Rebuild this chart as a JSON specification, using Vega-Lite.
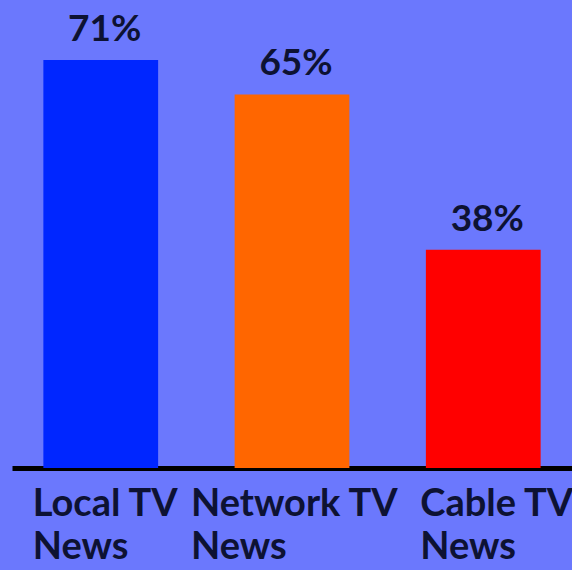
{
  "$schema": "https://vega.github.io/schema/vega-lite/v6.json",
  "width": 560,
  "height": 431,
  "autosize": {"type": "none"},
  "padding": {"left": 12, "top": 37, "right": 0, "bottom": 102},
  "background": "#6b78fd",
  "config": {"view": {"stroke": null}},
  "data": {
    "values": [
      {"source": "Local TV News", "share": 0.71},
      {"source": "Network TV News", "share": 0.65},
      {"source": "Cable TV News", "share": 0.38}
    ]
  },
  "encoding": {
    "x": {
      "field": "source",
      "type": "nominal",
      "sort": null,
      "scale": {"paddingInner": 0.4, "paddingOuter": 0.164},
      "axis": {
        "title": null,
        "orient": "bottom",
        "domainColor": "#000000",
        "domainWidth": 5,
        "ticks": false,
        "labelAngle": 0,
        "labelAlign": "left",
        "labelBaseline": "top",
        "labelFont": "Lato",
        "labelFontWeight": "bold",
        "labelFontSize": 38,
        "labelColor": "#0d1233",
        "labelPadding": 17,
        "labelLineHeight": 43,
        "labelLimit": 0,
        "labelOverlap": false,
        "labelFlush": false,
        "labelBound": false,
        "labelOffset": {
          "condition": [
            {"test": "datum.value === 'Network TV News'", "value": -101},
            {"test": "datum.value === 'Cable TV News'", "value": -63}
          ],
          "value": -68
        },
        "labelExpr": "[replace(datum.label, ' News', ''), 'News']"
      }
    },
    "y": {
      "field": "share",
      "type": "quantitative",
      "scale": {"domain": [0, 0.75]},
      "axis": null
    }
  },
  "layer": [
    {
      "mark": {"type": "bar"},
      "encoding": {
        "color": {
          "field": "source",
          "type": "nominal",
          "sort": null,
          "scale": {
            "domain": ["Local TV News", "Network TV News", "Cable TV News"],
            "range": ["#0026ff", "#ff6600", "#ff0000"]
          },
          "legend": null
        }
      }
    },
    {
      "mark": {
        "type": "text",
        "baseline": "alphabetic",
        "align": "center",
        "dy": -19,
        "dx": 4,
        "font": "Lato",
        "fontWeight": "bold",
        "fontSize": 37,
        "color": "#0d1233"
      },
      "encoding": {
        "text": {"field": "share", "type": "quantitative", "format": ".0%"}
      }
    }
  ]
}
